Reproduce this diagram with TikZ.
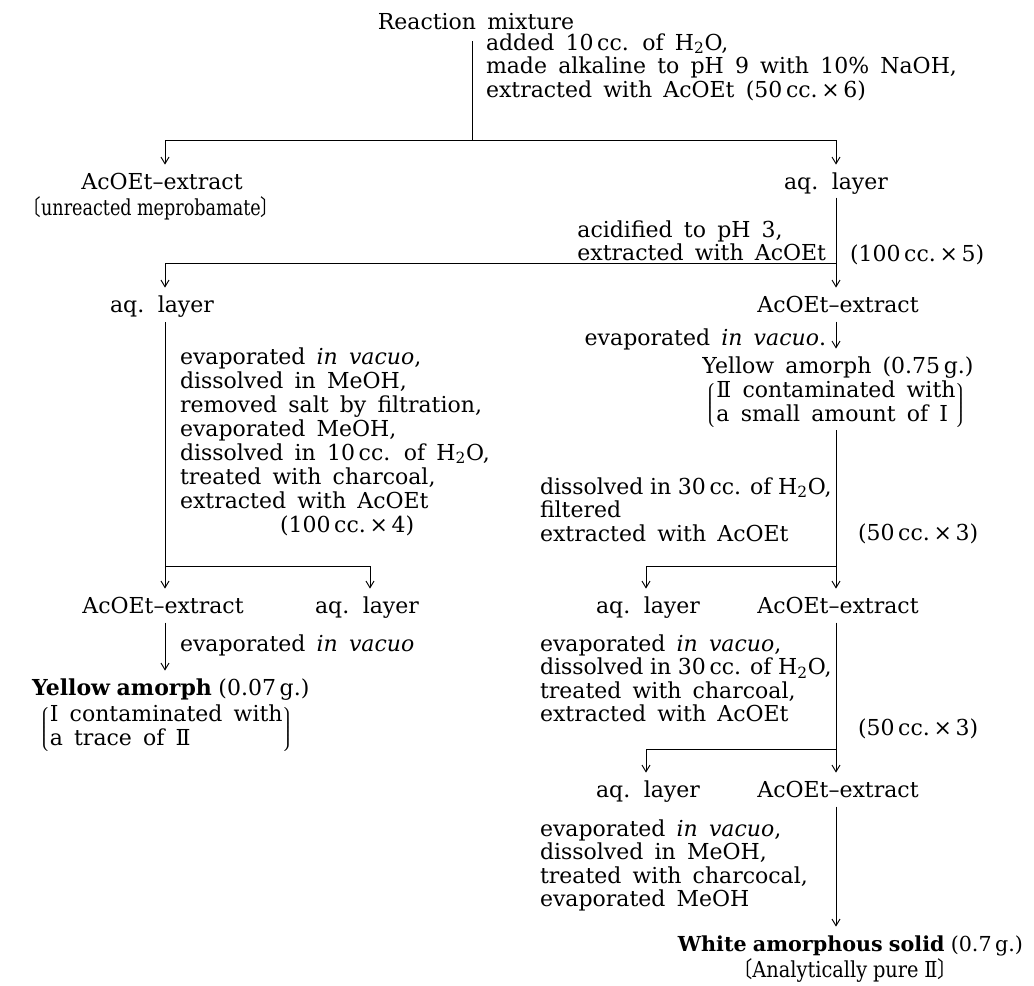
\documentclass[tikz,border=0pt]{standalone}
\usepackage{fontspec}
\usepackage{graphicx}
\setmainfont{DejaVu Serif}[WordSpace=1.6]
\newfontfamily\cjk{Noto Sans CJK JP}
\usetikzlibrary{arrows.meta}
\newcommand{\lsh}{{\cjk 〔}}
\newcommand{\rsh}{{\cjk 〕}}
\newcommand{\tight}[1]{{\spaceskip=0.3em plus 0.1em minus 0.05em\relax #1}}
\newcommand{\brk}[1]{$\left\lgroup\begin{tabular}{@{}l@{}}#1\end{tabular}\right\rgroup$}
\begin{document}
\begin{tikzpicture}[x=0.75pt,y=-0.75pt,
  every node/.style={inner sep=0pt, outer sep=0pt, font=\fontsize{16.5}{17.6}\selectfont},
  txt/.style={align=left, execute at begin node=\strut},
  ctxt/.style={align=center, execute at begin node=\strut},
  ln/.style={line width=0.7pt},
  arr/.style={line width=0.7pt, -{Straight Barb[length=5pt,width=6pt]}, shorten >=6pt}]
\useasboundingbox (0,0) rectangle (1034,985);

% ---------- nodes ----------
\node[txt,anchor=north] (rm) at (476,12.6) {Reaction mixture};
\node[txt,anchor=north west] (n1) at (486,33.6) {added 10\,cc. of H\textsubscript{2}O,\\made alkaline to pH 9 with 10\% NaOH,\\extracted with AcOEt (50\,cc.\,×\,6)};

\node[txt,anchor=north] (ae1) at (162,172.6) {AcOEt--extract};
\node[txt,anchor=north] (ae1b) at (151,197.1) {\scalebox{0.8}[1]{\lsh\tight{unreacted meprobamate}\rsh}};
\node[txt,anchor=north] (aq1) at (836,172.6) {aq. layer};
\node[txt,anchor=north east] (n2) at (826,220.6) {acidified to pH 3,\\extracted with AcOEt};
\node[txt,anchor=north west] (c2) at (850,244.6) {(100\,cc.\,×\,5)};

\node[txt,anchor=north] (aq2) at (162,295.6) {aq. layer};
\node[txt,anchor=north] (ae2) at (838,295.6) {AcOEt--extract};

\node[txt,anchor=north west,font=\fontsize{16.5}{18}\selectfont] (n3) at (180,347.6) {evaporated \textit{in vacuo},\\dissolved in MeOH,\\removed salt by filtration,\\evaporated MeOH,\\dissolved in 10\,cc. of H\textsubscript{2}O,\\treated with charcoal,\\extracted with AcOEt\\\hspace*{75pt}(100\,cc.\,×\,4)};

\node[txt,anchor=north] (ae3) at (163,596.6) {AcOEt--extract};
\node[txt,anchor=north] (aq3) at (367,596.6) {aq. layer};
\node[txt,anchor=north west] (n4) at (180,634.6) {evaporated \textit{in vacuo}};
\node[txt,anchor=north west] (ya1) at (32,678.6) {\tight{\textbf{Yellow amorph} (0.07\,g.)}};
\node[anchor=west] (ya1b) at (38,729) {\brk{Ⅰ contaminated with\\a trace of Ⅱ}};

\node[txt,anchor=north east] (n5) at (826,328.6) {evaporated \textit{in vacuo}.};
\node[txt,anchor=north] (ya2) at (838,356.6) {Yellow amorph (0.75\,g.)};
\node[anchor=center] (ya2b) at (836,405) {\brk{Ⅱ contaminated with\\a small amount of Ⅰ}};

\node[txt,anchor=north west] (n6) at (540,477.6) {\tight{dissolved in 30\,cc. of H\textsubscript{2}O,}\\filtered\\extracted with AcOEt};
\node[txt,anchor=north west] (c6) at (858,523.6) {(50\,cc.\,×\,3)};

\node[txt,anchor=north] (aq4) at (648,596.6) {aq. layer};
\node[txt,anchor=north] (ae4) at (838,596.6) {AcOEt--extract};
\node[txt,anchor=north west] (n7) at (540,634.6) {evaporated \textit{in vacuo},\\\tight{dissolved in 30\,cc. of H\textsubscript{2}O,}\\treated with charcoal,\\extracted with AcOEt};
\node[txt,anchor=north west] (c7) at (858,718.6) {(50\,cc.\,×\,3)};

\node[txt,anchor=north] (aq5) at (648,780.6) {aq. layer};
\node[txt,anchor=north] (ae5) at (838,780.6) {AcOEt--extract};
\node[txt,anchor=north west] (n8) at (540,819.6) {evaporated \textit{in vacuo},\\dissolved in MeOH,\\treated with charcocal,\\evaporated MeOH};

\node[txt,anchor=north east,font=\fontsize{15.5}{17.6}\selectfont] (ws) at (1023,934.6) {\tight{\textbf{White amorphous solid} (0.7\,g.)}};
\node[txt,anchor=north] (ws2) at (845,958.6) {\scalebox{0.88}[1]{\lsh\tight{Analytically pure Ⅱ}\rsh}};

% ---------- junctions ----------
\coordinate (j1) at (472,140);
\coordinate (l1) at (165,140);
\coordinate (r1) at (836,140);
\coordinate (l2) at (165,263);
\coordinate (r2) at (836,263);
\coordinate (l3) at (165,566);
\coordinate (m3) at (370,566);
\coordinate (r4) at (836,566);
\coordinate (m4) at (646,566);
\coordinate (r5) at (836,749);
\coordinate (m5) at (646,749);

% ---------- connectors ----------
\draw[ln] ([yshift=-4pt]rm.south -| j1) -- (j1);
\draw[ln] (l1) -- (r1);
\draw[arr] (l1) -- (l1 |- ae1.north);
\draw[arr] (r1) -- (r1 |- aq1.north);

\draw[ln] ([yshift=-1pt]aq1.south -| r2) -- (r2) -- (l2);
\draw[arr] (l2) -- (l2 |- aq2.north);
\draw[arr] (r2) -- (r2 |- ae2.north);

\draw[ln] ([yshift=-2pt]aq2.south -| l3) -- (l3) -- (m3);
\draw[arr] (l3) -- (l3 |- ae3.north);
\draw[arr] (m3) -- (m3 |- aq3.north);
\draw[arr] ([yshift=-2pt]ae3.south -| l3) -- (l3 |- ya1.north);

\draw[arr] ([yshift=-2pt]ae2.south -| r2) -- (r2 |- ya2.north);
\draw[ln] ([yshift=-1pt]ya2b.south -| r4) -- (r4) -- (m4);
\draw[arr] (m4) -- (m4 |- aq4.north);
\draw[arr] (r4) -- (r4 |- ae4.north);

\draw[ln] ([yshift=-2pt]ae4.south -| r5) -- (r5) -- (m5);
\draw[arr] (m5) -- (m5 |- aq5.north);
\draw[arr] (r5) -- (r5 |- ae5.north);
\draw[arr] ([yshift=-2pt]ae5.south -| r5) -- (r5 |- ws.north);
\end{tikzpicture}
\end{document}
